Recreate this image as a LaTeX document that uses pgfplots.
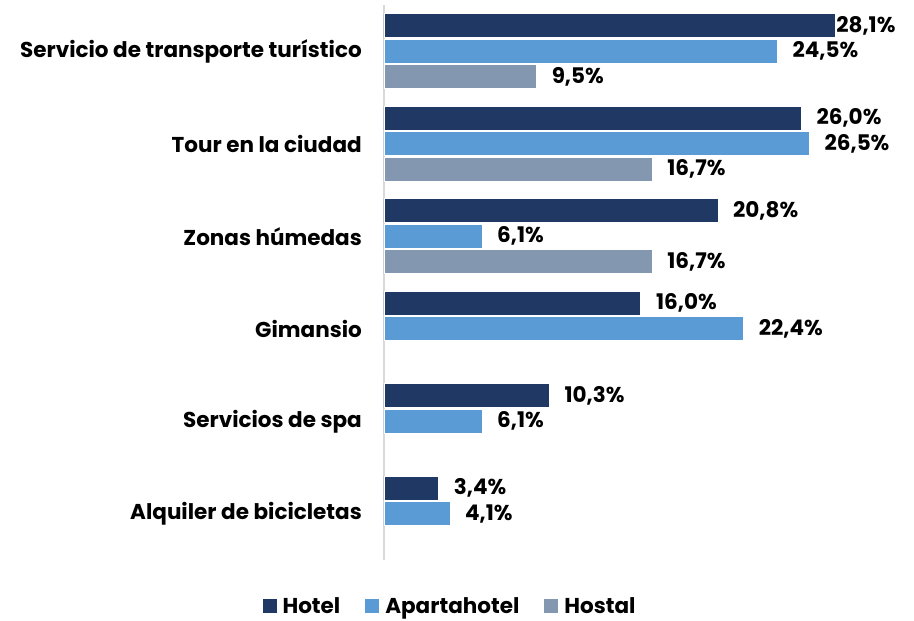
\documentclass[border=0pt]{standalone}
\usepackage{pgfplots}
\pgfplotsset{compat=1.18}
\usepackage{pgfplotstable}
\usepackage{fontspec}
\setmainfont{Poppins}

\definecolor{hotel}{HTML}{203864}
\definecolor{apart}{HTML}{5B9BD5}
\definecolor{hostal}{HTML}{8497B0}
\definecolor{axisgray}{HTML}{D9D9D9}

% y = category (0 = top), x = percent, s = label gap (bp)
\pgfplotstableread{
y x s
0 28.1 1
1 26.0 15
2 20.8 15
3 16.0 15
4 10.3 15
5 3.4 15
}\hotel
\pgfplotstableread{
y x s
0 24.5 15
1 26.5 15
2 6.1 15
3 22.4 15
4 6.1 15
5 4.1 15
}\apart
\pgfplotstableread{
y x s
0 9.5 15
1 16.7 15
2 16.7 15
}\hostal

\pgfplotsset{sqleg/.style={legend image code/.code={\fill[##1, draw=none] (0bp,-7bp) rectangle (14bp,7bp);}}}

\begin{document}
\begin{tikzpicture}[font=\fontsize{21.5bp}{24bp}\selectfont\bfseries]
\begin{axis}[
  scale only axis,
  width=513.6bp, height=555bp,
  xbar, bar width=24bp,
  xmin=0, xmax=32,
  ymin=-0.5, ymax=5.5,
  y dir=reverse,
  axis x line=none,
  axis y line*=left,
  y axis line style={draw=axisgray, line width=1.2bp},
  ytick={0,1,2,3,4,5},
  yticklabels={Servicio de transporte turístico, Tour en la ciudad, Zonas húmedas, Gimansio, Servicios de spa, Alquiler de bicicletas},
  major tick length=0pt,
  yticklabel style={anchor=east, inner sep=0pt, xshift=-22bp},
  every axis plot/.append style={draw=white, line width=0.6bp},
  nodes near coords={\pgfmathprintnumber[fixed,fixed zerofill,precision=1,use comma,assume math mode=true]{\pgfplotspointmeta}\%},
  visualization depends on={\thisrow{s} \as \lblgap},
  nodes near coords style={anchor=west, inner sep=0pt, xshift=\lblgap*1bp, text=black},
  legend style={at={(0.1266,-0.083)}, anchor=center, draw=none, fill=none,
    legend columns=3, nodes={inner sep=0pt},
    /tikz/every odd column/.append style={column sep=6bp},
    /tikz/every even column/.append style={column sep=25bp}},
  clip=false,
]
\addplot[fill=hotel, bar shift=25.5bp, sqleg] table[x=x,y=y] {\hotel};
\addlegendentry{Hotel}
\addplot[fill=apart, bar shift=0bp, sqleg] table[x=x,y=y] {\apart};
\addlegendentry{Apartahotel}
\addplot[fill=hostal, bar shift=-25.5bp, sqleg] table[x=x,y=y] {\hostal};
\addlegendentry{Hostal}
\end{axis}
\pgfresetboundingbox
\path[use as bounding box] (-384bp,-61bp) rectangle (530bp,560bp);
\end{tikzpicture}
\end{document}
